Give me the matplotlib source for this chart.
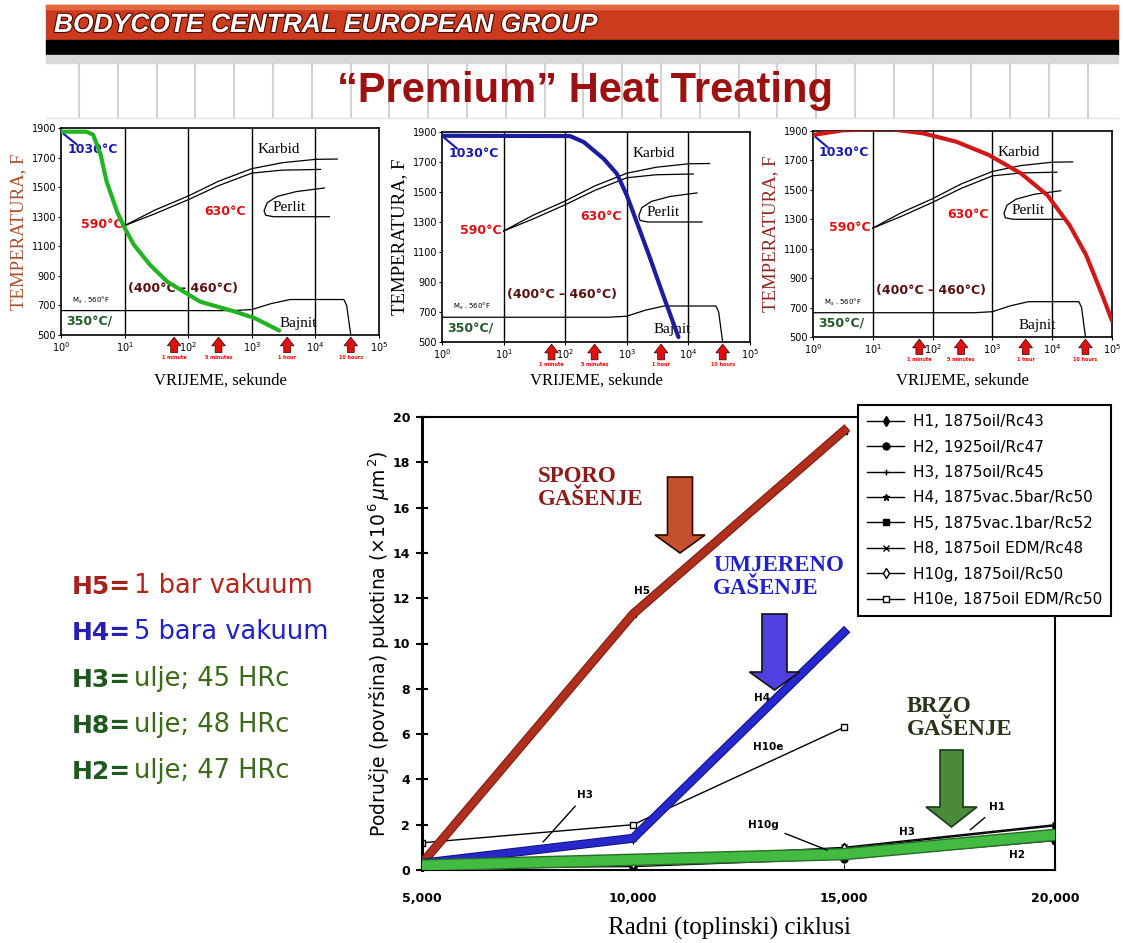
import numpy as np
import matplotlib
matplotlib.use("Agg")
import matplotlib.pyplot as plt
import matplotlib.patheffects as pe
from matplotlib.patches import Rectangle, FancyArrow
from matplotlib.ticker import NullLocator, FuncFormatter

W, H = 1123, 943

# --- CCT diagram lines (same steel in all three panels), time in s, temperature in F
carbide_hi_t = [10, 30, 100, 300, 1000, 3000, 10000, 22000]
carbide_hi_T = [1240, 1345, 1440, 1540, 1625, 1665, 1688, 1690]
carbide_lo_t = [10, 30, 100, 300, 1000, 3000, 12000]
carbide_lo_T = [1240, 1320, 1415, 1510, 1595, 1615, 1620]
pearlite_t = [13800, 5000, 2500, 1750, 1560, 1650, 2200, 16600]
pearlite_T = [1494, 1470, 1437, 1395, 1340, 1310, 1300, 1300]
bainite_t = [1, 500, 1000, 2000, 4000, 28000, 31000, 36000]
bainite_T = [665, 665, 672, 712, 740, 740, 700, 500]

# cooling curves: oil, 5 bar gas, 1 bar gas
oil_t = [1, 2.5, 3.2, 4.2, 5.2, 7.6, 10, 14, 25, 47, 155, 525, 1100, 2700]
oil_T = [1875, 1875, 1855, 1720, 1540, 1335, 1225, 1110, 975, 860, 725, 660, 615, 530]
gas5_t = [1, 120, 200, 420, 690, 1000, 1450, 2400, 3900, 6900]
gas5_T = [1875, 1873, 1833, 1722, 1622, 1478, 1300, 1056, 811, 533]
gas1_t = [1, 3.2, 20, 70, 250, 870, 3000, 8300, 19500, 37000, 69000, 100000]
gas1_T = [1873, 1905, 1912, 1884, 1827, 1737, 1612, 1464, 1260, 1056, 783, 610]

time_marks = [60, 300, 3600, 36000]
time_labels = ["1 minute", "5 minutes", "1 hour", "10 hours"]

# --- crack area vs. thermal cycles (x10^6 um^2)
cycles = [5000, 10000, 15000, 20000]
h1 = [0.2, 0.45, 0.95, 1.95]
h2 = [0.1, 0.15, 0.5, 1.3]
h3 = [0.3, 1.3, np.nan, np.nan]
h4 = [0.3, 1.4, 10.5, np.nan]
h5 = [0.3, 11.3, 19.4, np.nan]
h8 = [0.2, 0.5, 1.0, 2.0]
h10g = [0.1, 0.25, 0.95, np.nan]
h10e = [1.2, 2.0, 6.3, np.nan]
oil_band = [0.2, 0.45, 0.7, 1.55]
series_labels = ["H1, 1875oil/Rc43", "H2, 1925oil/Rc47", "H3, 1875oil/Rc45",
                 "H4, 1875vac.5bar/Rc50", "H5, 1875vac.1bar/Rc52",
                 "H8, 1875oil EDM/Rc48", "H10g, 1875oil/Rc50",
                 "H10e, 1875oil EDM/Rc50"]

note_keys = ["H5=", "H4=", "H3=", "H8=", "H2="]
note_values = ["1 bar vakuum", "5 bara vakuum", "ulje; 45 HRc", "ulje; 48 HRc", "ulje; 47 HRc"]

fig = plt.figure(figsize=(W / 100, H / 100), dpi=100)


def px_axes(x0, y0, x1, y1, **kw):
    return fig.add_axes([x0 / W, 1 - y1 / H, (x1 - x0) / W, (y1 - y0) / H], **kw)


# --- banner
bg = fig.add_axes([0, 0, 1, 1])
bg.set_xlim(0, W)
bg.set_ylim(H, 0)
bg.axis("off")
bg.add_patch(Rectangle((46, 5), 1072, 35, color="#cc3b1e"))
bg.add_patch(Rectangle((46, 5), 1072, 4, color="#e2683f"))
bg.add_patch(Rectangle((46, 40), 1072, 15, color="black"))
bg.add_patch(Rectangle((46, 55), 1072, 8, color="#d9d9d9"))
for gx in np.arange(79, 1118, 38.8):
    bg.plot([gx, gx], [63, 118], color="#d2d2d2", lw=1.5)
bg.plot([46, 1118], [118, 118], color="#e3e3e3", lw=1)
bg.text(54, 32, "BODYCOTE CENTRAL EUROPEAN GROUP", color="white", fontsize=19,
        fontweight="bold", fontstyle="italic", family="Liberation Sans", va="baseline",
        path_effects=[pe.withStroke(linewidth=1.6, foreground="#4a0800")])
bg.text(585, 102, "\u201cPremium\u201d Heat Treating", color="#9c1212", fontsize=30,
        fontweight="bold", family="Liberation Sans", ha="center", va="baseline")


def cct_panel(x0, y0, x1, y1, t, T, color, ylab_color):
    ax = px_axes(x0, y0, x1, y1)
    ax.set_xscale("log")
    ax.set_xlim(1, 1e5)
    ax.set_ylim(500, 1900)
    ax.set_xticks([1, 10, 100, 1e3, 1e4, 1e5])
    ax.xaxis.set_minor_locator(NullLocator())
    ax.set_yticks(np.arange(500, 2000, 200))
    ax.tick_params(labelsize=7, length=2, pad=1.5)
    for s in ax.spines.values():
        s.set_linewidth(1.2)
    for d in [10, 100, 1e3, 1e4]:
        ax.axvline(d, color="k", lw=1)
    ax.plot(carbide_hi_t, carbide_hi_T, "k", lw=0.9)
    ax.plot(carbide_lo_t, carbide_lo_T, "k", lw=0.9)
    ax.plot(pearlite_t, pearlite_T, "k", lw=0.9)
    ax.plot(bainite_t, bainite_T, "k", lw=0.9)
    ax.plot([1.1, 1.75], [1860, 1790], color="#1a1aaa", lw=1.5)

    bold = dict(fontweight="bold", family="DejaVu Sans", fontsize=9, va="center")
    ax.text(10 ** 0.1, 1755, "1030\u00b0C", color="#1a1aaa", ha="left", **bold)
    ax.text(10 ** 0.97, 1245, "590\u00b0C", color="#e01010", ha="right", **bold)
    ax.text(10 ** 2.25, 1335, "630\u00b0C", color="#e01010", ha="left", **bold)
    ax.text(10 ** 1.06, 815, "(400\u00b0C \u2013 460\u00b0C)", color="#5a1010", ha="left", **bold)
    ax.text(10 ** 0.08, 585, "350\u00b0C/", color="#24592a", ha="left", **bold)
    serif = dict(family="Liberation Serif", fontsize=11, va="center", ha="left")
    ax.text(10 ** 3.09, 1755, "Karbid", **serif)
    ax.text(10 ** 3.32, 1360, "Perlit", **serif)
    ax.text(10 ** 3.43, 580, "Bajnit", **serif)
    ax.text(10 ** 0.18, 735, "M$_s$ . 560\u00b0F", fontsize=5, va="center")

    ax.plot(t, T, color=color, lw=3, solid_capstyle="round", zorder=5)

    for tm, lab in zip(time_marks, time_labels):
        ax.annotate("", xy=(tm, -0.01), xytext=(tm, -0.085),
                    xycoords=("data", "axes fraction"), annotation_clip=False,
                    arrowprops=dict(arrowstyle="simple,head_length=0.45,head_width=0.7,tail_width=0.35",
                                    fc="#e01010", ec="#300000", lw=0.5, shrinkA=0, shrinkB=0,
                                    mutation_scale=14))
        ax.text(tm, -0.095, lab, transform=ax.get_xaxis_transform(), fontsize=3.5,
                color="red", ha="center", va="top", fontweight="bold")

    ax.set_ylabel("TEMPERATURA, F", family="Liberation Serif", fontsize=13.5, color=ylab_color)
    ax.yaxis.set_label_coords(-34 / (x1 - x0), 0.5)
    ax.set_xlabel("VRIJEME, sekunde", family="Liberation Serif", fontsize=12)
    ax.xaxis.set_label_coords(0.5, -(373 - y1) / (y1 - y0))
    return ax


cct_panel(61, 128, 379, 335, oil_t, oil_T, "#22b422", "#a8502c")
cct_panel(442, 132, 750, 342, gas5_t, gas5_T, "#1c1ca0", "black")
cct_panel(813, 131, 1112, 337, gas1_t, gas1_T, "#d01818", "#8a2a20")

# --- crack growth chart
ax = px_axes(422, 417, 1055, 870)
ax.set_xlim(5000, 20000)
ax.set_ylim(0, 20)
ax.set_xticks(cycles)
ax.xaxis.set_major_formatter(FuncFormatter(lambda v, p: f"{int(v):,}"))
ax.set_yticks(range(0, 21, 2))
ax.tick_params(axis="y", direction="inout", length=9, width=1.5, labelsize=9, pad=4)
ax.tick_params(axis="x", direction="in", length=4, labelsize=9, pad=16)
for lab in ax.get_xticklabels() + ax.get_yticklabels():
    lab.set_fontweight("bold")
for name, s in ax.spines.items():
    s.set_linewidth(2.2 if name == "left" else 1.5)

series = [h1, h2, h3, h4, h5, h8, h10g, h10e]
markers = ["d", "o", "+", "*", "s", "x", "d", "s"]
faces = ["k", "k", "k", "k", "k", "k", "white", "white"]
handles = []
for vals, m, fc in zip(series, markers, faces):
    line, = ax.plot(cycles, vals, color="k", lw=1, marker=m, ms=5, mfc=fc, mec="k", zorder=2)
    handles.append(line)

ax.plot(cycles, h5, color="#b8321e", lw=5, alpha=0.88, zorder=3,
        path_effects=[pe.Stroke(linewidth=6.5, foreground="#7a1a10"), pe.Normal()])
ax.plot(cycles, h4, color="#2a2ad8", lw=5, alpha=0.9, zorder=3,
        path_effects=[pe.Stroke(linewidth=6.5, foreground="#12127a"), pe.Normal()])
ax.plot(cycles, oil_band, color="#44c444", lw=7, alpha=0.92, zorder=3,
        path_effects=[pe.Stroke(linewidth=9, foreground="#2a6a2a"), pe.Normal()])

small = dict(fontsize=7.5, fontweight="bold", ha="center", va="center", zorder=6)
ax.text(10213, 12.3, "H5", **small)
ax.text(13057, 7.6, "H4", **small)
ax.text(13199, 5.43, "H10e", **small)
ax.text(19100, 0.66, "H2", **small)
ax.text(16490, 1.68, "H3", **small)
leader = dict(arrowstyle="-", color="k", lw=1, shrinkA=3, shrinkB=0)
ax.annotate("H3", xy=(7870, 1.24), xytext=(8863, 3.3), arrowprops=leader, **small)
ax.annotate("H10g", xy=(14600, 0.88), xytext=(13080, 2.0), arrowprops=leader, **small)
ax.annotate("H1", xy=(17990, 1.77), xytext=(18630, 2.78), arrowprops=leader, **small)

ax.set_ylabel(r"Područje (površina) pukotina $(\times10^{\,6}\,\mu\mathrm{m}^{\,2})$", fontsize=13.5)
ax.yaxis.set_label_coords(-30 / 633, 0.5)

leg = ax.legend(handles, series_labels, loc="upper left", bbox_to_anchor=(858 / W, 1 - 405 / H),
                bbox_transform=fig.transFigure, fontsize=11, frameon=True, fancybox=False,
                edgecolor="k", framealpha=1, labelspacing=0.68, handlelength=2.4,
                borderpad=0.6, handletextpad=0.6, borderaxespad=0)
leg.get_frame().set_linewidth(1.5)
leg.set_zorder(10)

# --- arrows, quench notes and key on top of everything
top = fig.add_axes([0, 0, 1, 1], zorder=5)
top.set_xlim(0, W)
top.set_ylim(H, 0)
top.axis("off")

top.add_patch(FancyArrow(680, 477, 0, 76, width=25, head_width=50, head_length=18,
                         length_includes_head=True, fc="#c4502e", ec="#2a0a00", lw=1.2))
top.add_patch(FancyArrow(774.5, 614, 0, 76, width=25, head_width=50, head_length=18,
                         length_includes_head=True, fc="#5040e0", ec="#111111", lw=1.2))
top.add_patch(FancyArrow(951.5, 750, 0, 77, width=23, head_width=51, head_length=20,
                         length_includes_head=True, fc="#4a8a3a", ec="#1a3a1a", lw=1.2))

quench = dict(family="Liberation Serif", fontweight="bold", fontsize=16.5, ha="left",
              va="center", linespacing=1.15)
top.text(538, 488, "SPORO\nGAŠENJE", color="#8a1c1c", **quench)
top.text(713, 577, "UMJERENO\nGAŠENJE", color="#2222cc", **quench)
top.text(907, 718, "BRZO\nGAŠENJE", color="#2a3418", **quench)

key_colors = ["#a3221a", "#2a20b0", "#1e5a1e", "#1e5a1e", "#1e5a1e"]
value_colors = ["#b3261c", "#2020c8", "#3d6a1a", "#3d6a1a", "#3d6a1a"]
for i, (k, v) in enumerate(zip(note_keys, note_values)):
    yb = 594 + i * 46.3
    t1 = top.text(72, yb, k, fontsize=18, fontweight="bold", color=key_colors[i],
                  family="DejaVu Sans", va="baseline")
    top.annotate(v, xy=(1, 0), xycoords=t1, xytext=(2, 0), textcoords="offset points",
                 fontsize=18.5, color=value_colors[i], family="DejaVu Sans", va="bottom", ha="left")

top.text(729, 928, "Radni (toplinski) ciklusi", ha="center", va="center",
         family="Liberation Serif", fontsize=18)

fig.savefig("out.png", dpi=100)
